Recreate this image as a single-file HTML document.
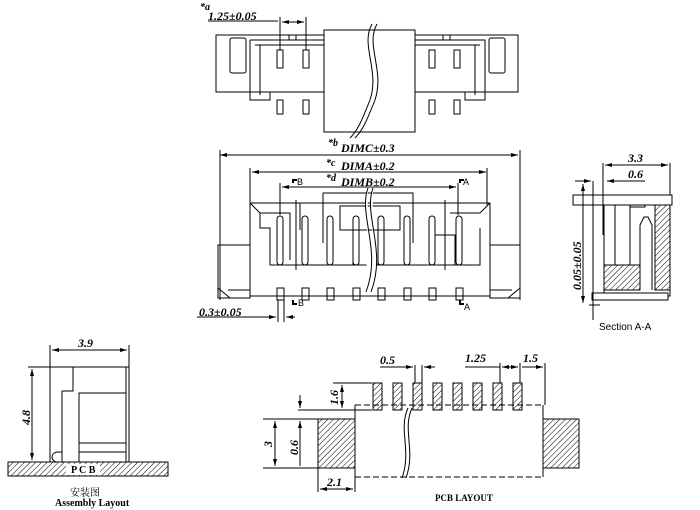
<!DOCTYPE html>
<html><head><meta charset="utf-8"><style>body{margin:0;background:#fff}svg{display:block}</style></head><body>
<svg width="700" height="510" viewBox="0 0 700 510" xmlns="http://www.w3.org/2000/svg" font-family="Liberation Sans, sans-serif">
<defs>
<pattern id="h" width="4" height="4" patternUnits="userSpaceOnUse" patternTransform="rotate(45)"><line x1="0" y1="0" x2="0" y2="4" stroke="#000" stroke-width="1"/></pattern>
<marker id="a" markerWidth="7" markerHeight="4" refX="7" refY="2" orient="auto-start-reverse" markerUnits="userSpaceOnUse"><path d="M0,0L7,2L0,4z" fill="#000"/></marker>
</defs>
<g stroke="#000" stroke-width="1" fill="none">
<!-- TOP VIEW -->
<rect x="216" y="35" width="302" height="57"/>
<rect x="230" y="38" width="16" height="35" rx="2"/>
<rect x="489" y="38" width="16" height="35" rx="2"/>
<path d="M250 40 H324 M250 40 V100 H270 V92 M255 45 H324 M260 45 V95"/>
<path d="M415 40 H485 V100 H465 V92 M415 45 H480 M475 45 V95"/>
<rect x="289" y="35" width="7" height="5"/><rect x="443" y="35" width="7" height="5"/>
<rect x="277" y="50" width="6" height="18"/><rect x="303" y="50" width="6" height="18"/>
<rect x="429" y="50" width="6" height="18"/><rect x="454" y="50" width="6" height="18"/>
<rect x="277" y="100" width="6" height="14"/><rect x="303" y="100" width="6" height="14"/>
<rect x="429" y="100" width="6" height="14"/><rect x="454" y="100" width="6" height="14"/>
<rect x="324" y="30" width="91" height="102" fill="#fff"/>
<path d="M372 24 C360 45,380 70,370 100 C362 120,358 130,350 138 M377 24 C365 45,385 70,375 100 C367 120,363 130,355 138"/>
<path d="M280 17 V50 M306 17 V50"/>
<line x1="282" y1="22" x2="304" y2="22" marker-start="url(#a)" marker-end="url(#a)"/>
<line x1="208" y1="21" x2="278" y2="21"/>
<!-- DIMC etc -->
<line x1="220" y1="155" x2="518" y2="155" marker-start="url(#a)" marker-end="url(#a)"/>
<path d="M220 150 V300 M520 150 V300 M250 168 V205 M487 168 V205 M280 183 V215 M458 183 V215"/>
<line x1="252" y1="172" x2="486" y2="172" marker-start="url(#a)" marker-end="url(#a)"/>
<line x1="282" y1="187" x2="456" y2="187" marker-start="url(#a)" marker-end="url(#a)"/>
<!-- FRONT VIEW -->
<path d="M250 203 H490 V296 H250 Z"/>
<path d="M250 203 L260 213 H290 V218 M490 203 L480 213 H450"/>
<path d="M260 213 V228 H270 V265 H480 V228 M290 213 V260 M300 203 V230"/>
<path d="M218 245 H250 V298 H218 Z M218 288 L230 298 M250 290 H228"/>
<path d="M490 245 H520 V298 H490 Z M520 288 L508 298 M490 290 H512"/>
<path d="M323 193 H413 V243 M323 193 V243 M340 206 H400 V230 H340 Z M353 230 V265 M378 230 V265 M435 235 H455 V265"/>
<path d="M296 200 V270 M445 200 V270"/>
<g>
<rect x="277" y="216" width="6" height="49" rx="3"/><rect x="302" y="216" width="6" height="49" rx="3"/>
<rect x="327" y="216" width="6" height="49" rx="3"/><rect x="353" y="216" width="6" height="49" rx="3"/>
<rect x="378" y="216" width="6" height="49" rx="3"/><rect x="404" y="216" width="6" height="49" rx="3"/>
<rect x="429" y="216" width="6" height="49" rx="3"/><rect x="456" y="216" width="6" height="49" rx="3"/>
<rect x="277" y="288" width="7" height="12"/><rect x="302" y="288" width="7" height="12"/>
<rect x="327" y="288" width="7" height="12"/><rect x="353" y="288" width="7" height="12"/>
<rect x="378" y="288" width="7" height="12"/><rect x="404" y="288" width="7" height="12"/>
<rect x="429" y="288" width="7" height="12"/><rect x="456" y="288" width="7" height="12"/>
</g>
<path d="M368 188 C358 215,382 250,366 292 M373 188 C363 215,387 250,371 292" stroke="#000" fill="#fff"/>
<path d="M278 300 V322 M284 300 V322"/>
<line x1="197" y1="317" x2="276" y2="317" marker-end="url(#a)"/>
<line x1="295" y1="317" x2="286" y2="317" marker-end="url(#a)"/>
<path d="M293 183 V180 H297 M460 183 V180 H464 M293 300 V304 H297 M460 300 V304 H464" stroke-width="2"/>
<!-- SECTION A-A -->
<rect x="573" y="195" width="99" height="10"/>
<rect x="604" y="205" width="66" height="91"/>
<rect x="604" y="265" width="36" height="25" fill="url(#h)"/>
<rect x="655" y="205" width="15" height="85" fill="url(#h)"/>
<path d="M615 205 V265 M630 205 V265 M630 207 H645 V205"/>
<path d="M640 290 V225 L644 217 H648 L652 225 V290" fill="#fff"/>
<path d="M592 293 H668 V300 H592 Z" fill="#fff"/>
<path d="M603 163 V235 M670 163 V195 M593 181 V320 M589 305 H600"/>
<line x1="605" y1="165" x2="668" y2="165" marker-start="url(#a)" marker-end="url(#a)"/>
<line x1="607" y1="181" x2="645" y2="181" marker-start="url(#a)"/>
<line x1="575" y1="181" x2="591" y2="181" marker-end="url(#a)"/>
<line x1="583" y1="184" x2="583" y2="303" marker-start="url(#a)" marker-end="url(#a)"/>
<!-- ASSEMBLY -->
<path d="M50 345 V462 M129 345 V462 M28 367 H73"/>
<line x1="52" y1="350" x2="127" y2="350" marker-start="url(#a)" marker-end="url(#a)"/>
<line x1="32" y1="369" x2="32" y2="460" marker-start="url(#a)" marker-end="url(#a)"/>
<path d="M73 367 H129 M73 367 V391 H62 V462 M126 367 V462"/>
<rect x="79" y="393" width="47" height="69"/>
<path d="M79 443 H126 M79 452 H126 M58 462 C50 462,50 452,58 452 H62"/>
<rect x="8" y="462" width="160" height="14" fill="url(#h)"/>
<rect x="66" y="464" width="34" height="11" fill="#fff" stroke="none"/>
<!-- PCB LAYOUT -->
<g fill="url(#h)">
<rect x="373" y="383" width="9" height="27"/><rect x="393" y="383" width="9" height="27"/>
<rect x="413" y="383" width="9" height="27"/><rect x="433" y="383" width="9" height="27"/>
<rect x="453" y="383" width="9" height="27"/><rect x="473" y="383" width="9" height="27"/>
<rect x="493" y="383" width="9" height="27"/><rect x="513" y="383" width="9" height="27"/>
<rect x="318" y="419" width="37" height="49"/><rect x="543" y="419" width="36" height="49"/>
</g>
<path d="M355 405 H543 M355 477 H543" stroke-dasharray="6,3"/>
<path d="M355 405 V420 M355 468 V477 M543 405 V420 M543 468 V477"/>
<path d="M408 408 C398 430,412 450,402 478 M412 408 C402 430,416 450,406 478"/>
<path d="M415 365 V383 M422 365 V383 M500 363 V383 M520 363 V383 M545 363 V405 M333 383 H372 M298 410 H372 M263 419 H318 M263 468 H318 M318 468 V492 M355 477 V492"/>
<line x1="380" y1="367" x2="413" y2="367" marker-end="url(#a)"/>
<line x1="435" y1="367" x2="424" y2="367" marker-end="url(#a)"/>
<line x1="465" y1="367" x2="500" y2="367"/>
<line x1="502" y1="367" x2="518" y2="367" marker-start="url(#a)" marker-end="url(#a)"/>
<line x1="522" y1="367" x2="543" y2="367" marker-end="url(#a)"/>
<line x1="342" y1="385" x2="342" y2="408" marker-start="url(#a)" marker-end="url(#a)"/>
<line x1="275" y1="421" x2="275" y2="466" marker-start="url(#a)" marker-end="url(#a)"/>
<line x1="300" y1="421" x2="300" y2="466" marker-start="url(#a)"/>
<line x1="300" y1="395" x2="300" y2="408" marker-end="url(#a)"/>
<line x1="320" y1="489" x2="353" y2="489" marker-start="url(#a)" marker-end="url(#a)"/>
</g>
<g font-family="Liberation Serif, serif" font-style="italic" font-weight="bold" font-size="12" fill="#000">
<text x="200" y="10" font-size="10">*a</text>
<text x="208" y="20">1.25±0.05</text>
<text x="328" y="146" font-size="10">*b</text>
<text x="341" y="152">DIMC±0.3</text>
<text x="326" y="166" font-size="10">*c</text>
<text x="341" y="170">DIMA±0.2</text>
<text x="326" y="181" font-size="10">*d</text>
<text x="341" y="186">DIMB±0.2</text>
<text x="199" y="316">0.3±0.05</text>
<text x="628" y="162">3.3</text>
<text x="628" y="178">0.6</text>
<text transform="translate(581,290) rotate(-90)">0.05±0.05</text>
<text x="78" y="347">3.9</text>
<text transform="translate(30,425) rotate(-90)">4.8</text>
<text x="380" y="364">0.5</text>
<text x="465" y="362">1.25</text>
<text x="523" y="362">1.5</text>
<text transform="translate(338,405) rotate(-90)">1.6</text>
<text transform="translate(272,447) rotate(-90)">3</text>
<text transform="translate(298,455) rotate(-90)">0.6</text>
<text x="327" y="486">2.1</text>
</g>
<g font-size="9" fill="#000">
<text x="297" y="185">B</text><text x="463" y="185">A</text>
<text x="298" y="306">B</text><text x="464" y="310">A</text>
<text x="599" y="330" font-size="10">Section A-A</text>
</g>
<g font-family="Liberation Serif, serif" font-size="10" fill="#000">
<text x="71" y="473" font-weight="bold">P C B</text>
<text x="70" y="496" font-family="Liberation Serif, Noto Serif CJK SC, serif" font-size="10">安装图</text>
<text x="55" y="506" font-weight="bold">Assembly Layout</text>
<text x="435" y="501" font-size="9" font-weight="bold">PCB LAYOUT</text>
</g>
</svg>
</body></html>
